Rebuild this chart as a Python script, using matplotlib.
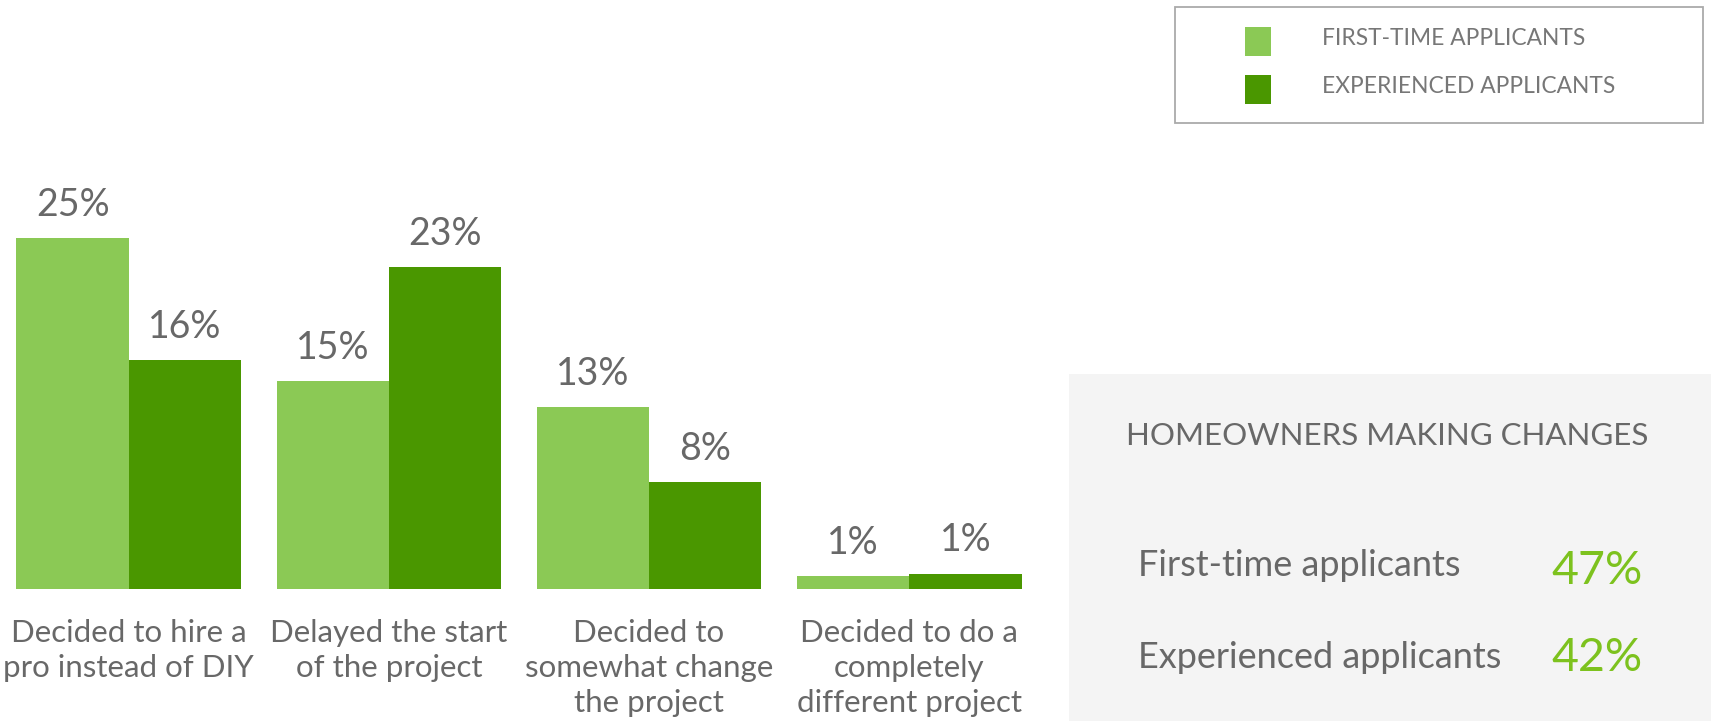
import matplotlib
matplotlib.use("Agg")
import matplotlib.pyplot as plt
from matplotlib.patches import Rectangle
import numpy as np

# ---- data ----
categories = ["Decided to hire a\npro instead of DIY",
              "Delayed the start\nof the project",
              "Decided to\nsomewhat change\nthe project",
              "Decided to do a\ncompletely\ndifferent project"]
# bar heights (labels show rounded values)
first_time = [25, 14.8, 12.95, 0.9]
experienced = [16.3, 22.9, 7.6, 1.1]
series_names = ["FIRST-TIME APPLICANTS", "EXPERIENCED APPLICANTS"]
panel_title = "HOMEOWNERS MAKING CHANGES"
panel_labels = ["First-time applicants", "Experienced applicants"]
panel_values = ["47%", "42%"]

LIGHT = "#8BC955"
DARK = "#4A9700"
TXT = "#686868"
ACCENT = "#7DC21E"
FONT = "Lato"
WT = "normal"

W, H = 1711, 721
fig = plt.figure(figsize=(W / 100, H / 100), dpi=100)
fig.patch.set_facecolor("white")

def fx(px):
    return px / W

def fy(py):
    return 1 - py / H

# axes: baseline at y=589px, 14.05 px per percent, ylim 0..30
ppu = 14.05
ymax = 30
ax_top = 589 - ymax * ppu
xs = 260.1
c0 = 128.8
x0px, x1px = 0, 1050
xlim = ((x0px - c0) / xs, (x1px - c0) / xs)
ax = fig.add_axes([fx(x0px), fy(589), fx(x1px - x0px), (589 - ax_top) / H])
ax.set_xlim(*xlim)
ax.set_ylim(0, ymax)
ax.axis("off")

x = np.arange(len(categories))
bw = 112.4 / xs
b1 = ax.bar(x - bw / 2, first_time, bw, color=LIGHT, label=series_names[0])
b2 = ax.bar(x + bw / 2, experienced, bw, color=DARK, label=series_names[1])

for bars, vals in ((b1, first_time), (b2, experienced)):
    for r, v in zip(bars, vals):
        ax.annotate(f"{round(v)}%", (r.get_x() + r.get_width() / 2, r.get_height()),
                    xytext=(0, 16), textcoords="offset points",
                    ha="center", va="baseline", fontsize=27,
                    color=TXT, family=FONT, fontweight=WT)

for xi, lab in zip(x, categories):
    ax.annotate(lab, (xi, 0), xytext=(0, -21.5), textcoords="offset points",
                ha="center", va="top", fontsize=22.5, color=TXT,
                family=FONT, fontweight=WT, linespacing=1.31,
                annotation_clip=False)

# legend (frame + swatches + labels)
fig.patches.append(Rectangle((fx(1175), fy(123)), fx(1703 - 1175), (123 - 7) / H,
                             transform=fig.transFigure, facecolor="white",
                             edgecolor="#AAAAAA", linewidth=1.3))
for name, col, top, base in zip(series_names, (LIGHT, DARK), (27, 75), (45, 93.3)):
    fig.patches.append(Rectangle((fx(1245), fy(top + 29)), fx(26), 29 / H,
                                 transform=fig.transFigure, facecolor=col,
                                 edgecolor="none"))
    fig.text(fx(1322), fy(base), name, ha="left", va="baseline",
             fontsize=16.4, color="#777777", family=FONT, fontweight=WT)

# right panel
fig.patches.append(Rectangle((fx(1069), 0), 1 - fx(1069), (H - 374) / H,
                             transform=fig.transFigure, facecolor="#F4F4F4",
                             edgecolor="none"))
fig.text(fx(1126), fy(436.5), panel_title, ha="left", va="center",
         fontsize=22.5, color=TXT, family=FONT, fontweight=WT)
for lab, val, by, vy in zip(panel_labels, panel_values, (576, 668), (584, 671)):
    fig.text(fx(1138), fy(by), lab, ha="left", va="baseline",
             fontsize=26, color=TXT, family=FONT, fontweight=WT)
    fig.text(fx(1597), fy(vy), val, ha="center", va="baseline",
             fontsize=33.5, color=ACCENT, family=FONT, fontweight=WT)

fig.savefig("out.png", dpi=100, facecolor="white")
